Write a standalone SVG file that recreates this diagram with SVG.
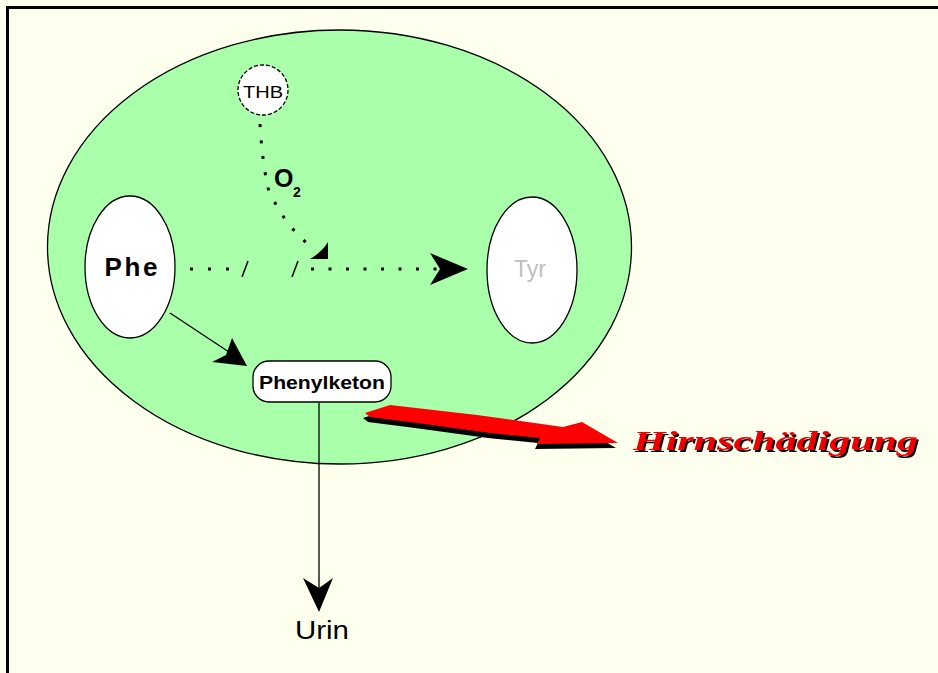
<svg xmlns="http://www.w3.org/2000/svg" width="938" height="673" viewBox="0 0 938 673">
  <style>
    .node { fill: #ffffff; stroke: #000000; stroke-width: 1.3; }
    .dots { fill: none; stroke: #000000; stroke-width: 3; stroke-linecap: butt; }
    .line { fill: none; stroke: #000000; stroke-width: 1.3; }
    .sans { font-family: "Liberation Sans", Arial, sans-serif; }
  </style>
  <defs>
    <filter id="hardShadow" x="-5%" y="-20%" width="110%" height="150%">
      <feDropShadow dx="2" dy="2" stdDeviation="0.4" flood-color="#000000" flood-opacity="1"/>
    </filter>
  </defs>
  <!-- page background and frame -->
  <rect x="0" y="0" width="938" height="673" fill="#ffffee"/>
  <path d="M7.5 673 V7.5 H938" fill="none" stroke="#000000" stroke-width="3"/>

  <!-- cell -->
  <g id="cell">
    <ellipse cx="339.5" cy="247" rx="292" ry="217" fill="#aaffaa" stroke="#000000" stroke-width="1.3"/>
  </g>

  <g id="connectors">
    <!-- THB / O2 cofactor path -->
    <path class="dots" d="M260 124 Q262 160 268 188 Q282 222 309 245" stroke-dasharray="3 13"/>
    <path d="M310 259 L328 259 L328 242 Q322 252 310 259 Z" fill="#000000"/>
    <!-- blocked Phe -> Tyr conversion -->
    <path class="dots" d="M190 269 H238" stroke-dasharray="3 15"/>
    <line x1="248" y1="261" x2="242" y2="277" stroke="#000000" stroke-width="1.5"/>
    <line x1="298" y1="261" x2="292" y2="277" stroke="#000000" stroke-width="1.5"/>
    <path class="dots" d="M311 269 H440" stroke-dasharray="3 14.5"/>
    <path d="M430 253 L468 269 L430 285 L440 269 Z" fill="#000000"/>
    <!-- Phe -> Phenylketon -->
    <line class="line" x1="170" y1="313" x2="238" y2="358"/>
    <path d="M247 366 L212 362 L226 355 L232 338 Z" fill="#000000"/>
    <!-- Phenylketon -> Urin -->
    <line class="line" x1="319" y1="403" x2="319" y2="600"/>
    <path d="M303 578 L319 588 L333 578 L319 612 Z" fill="#000000"/>
    <!-- Phenylketon -> Hirnschädigung -->
    <g id="brain-arrow">
      <path d="M363 418 L388 410 L475 420 L561 432 L580 427 L616 448 L535 449 L538 443 L488 438 L415 428 L368 422 Z" fill="#000000"/>
      <path d="M365 413 L390 405 L477 415 L563 427 L582 422 L618 443 L537 444 L540 438 L490 433 L417 423 L370 417 Z" fill="#ff0000"/>
    </g>
  </g>

  <g id="thb">
    <circle cx="263" cy="90" r="25" class="node" stroke-dasharray="4 2"/>
    <text x="263" y="98" text-anchor="middle" class="sans" font-size="17" textLength="40" lengthAdjust="spacingAndGlyphs">THB</text>
  </g>

  <g id="o2">
    <text x="274" y="187" class="sans" font-size="25" font-weight="bold">O</text>
    <text x="293" y="197" class="sans" font-size="14" font-weight="bold">2</text>
  </g>

  <g id="phe">
    <ellipse cx="130" cy="267" rx="45" ry="71" class="node"/>
    <text x="131" y="276" text-anchor="middle" class="sans" font-size="26" font-weight="bold" textLength="53" lengthAdjust="spacing">Phe</text>
  </g>

  <g id="tyr">
    <ellipse cx="532" cy="270" rx="45" ry="73" class="node"/>
    <text x="530" y="277" text-anchor="middle" class="sans" font-size="23" fill="#c0c0c0">Tyr</text>
  </g>

  <g id="phenylketon">
    <rect x="253" y="361" width="138" height="41" rx="16" ry="16" class="node"/>
    <text x="322" y="389" text-anchor="middle" class="sans" font-size="18" font-weight="bold" textLength="126" lengthAdjust="spacingAndGlyphs">Phenylketon</text>
  </g>

  <g id="urin">
    <text x="322" y="639" text-anchor="middle" class="sans" font-size="25" textLength="54" lengthAdjust="spacingAndGlyphs">Urin</text>
  </g>

  <g id="hirnschaedigung">
    <text x="633" y="450" textLength="285" lengthAdjust="spacingAndGlyphs" fill="#ee0000" filter="url(#hardShadow)" font-family="'Liberation Serif', 'Times New Roman', serif" font-size="27" font-weight="bold" font-style="italic">Hirnschädigung</text>
  </g>
</svg>
